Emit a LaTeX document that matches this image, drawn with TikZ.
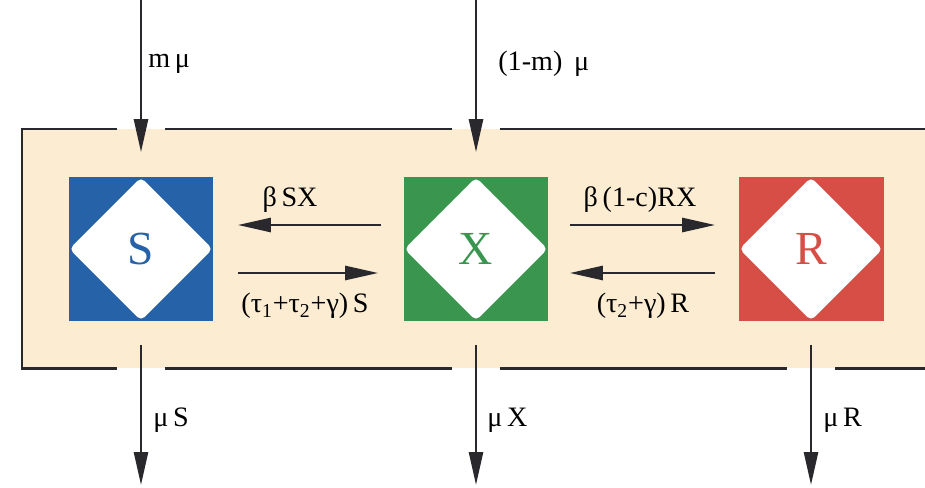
\documentclass[tikz,border=0pt]{standalone}
\usepackage{fontspec}
\setmainfont{Liberation Serif}
\usetikzlibrary{arrows.meta}
\definecolor{sandbg}{RGB}{251, 236, 210}
\definecolor{sblue}{RGB}{38, 98, 168}
\definecolor{xgreen}{RGB}{58, 150, 78}
\definecolor{rred}{RGB}{214, 78, 70}
\definecolor{darkline}{RGB}{40, 40, 45}

\begin{document}
\begin{tikzpicture}[x=0.02cm, y=-0.02cm,
  comp/.style={rectangle, minimum width=2.9cm, minimum height=2.9cm,
               inner sep=0pt, font=\fontsize{27}{29}\selectfont,
               path picture={\fill[white, rounded corners=0.1cm]
                 ([yshift=-0.5pt]path picture bounding box.north) --
                 ([xshift=-0.5pt]path picture bounding box.east) --
                 ([yshift=0.5pt]path picture bounding box.south) --
                 ([xshift=0.5pt]path picture bounding box.west) -- cycle;}},
  lbl/.style={font=\fontsize{16}{18}\selectfont, inner sep=0pt},
  flow/.style={-{Triangle[length=0.66cm, width=0.28cm]}, line width=1.5pt, darkline},
  frameline/.style={line width=1.7pt, darkline}
]
\useasboundingbox (0,0) rectangle (925,487);

% compartment frame
\fill[sandbg] (22,129) rectangle (925,368);
\draw[frameline] (925,129) -- (500,129);
\draw[frameline] (452,129) -- (165,129);
\draw[frameline] (117,129) -- (22,129) -- (22,368) -- (117,368);
\draw[frameline] (165,368) -- (452,368);
\draw[frameline] (500,368) -- (787,368);
\draw[frameline] (835,368) -- (925,368);

% the three classes
\node[comp, fill=sblue,  text=sblue]  (S) at (141,249) {S};
\node[comp, fill=xgreen, text=xgreen] (X) at (476,249) {X};
\node[comp, fill=rred,   text=rred]   (R) at (811,249) {R};

% births and deaths
\coordinate (inS)  at (141,0);
\coordinate (inX)  at (476,0);
\coordinate (outS) at (141,485);
\coordinate (outX) at (476,485);
\coordinate (outR) at (811,485);

\draw[flow, shorten >=0.48cm] (inS) -- (S);
\draw[flow, shorten >=0.48cm] (inX) -- (X);
\draw[flow, shorten <=0.46cm] (S) -- (outS);
\draw[flow, shorten <=0.46cm] (X) -- (outX);
\draw[flow, shorten <=0.46cm] (R) -- (outR);

% transitions
\draw[flow, shorten <=0.44cm, shorten >=0.48cm] ([yshift=0.48cm]X.west) -- ([yshift=0.48cm]S.east);
\draw[flow, shorten <=0.48cm, shorten >=0.5cm]  ([yshift=-0.48cm]S.east) -- ([yshift=-0.48cm]X.west);
\draw[flow, shorten <=0.42cm, shorten >=0.46cm] ([yshift=0.48cm]X.east) -- ([yshift=0.48cm]R.west);
\draw[flow, shorten <=0.46cm, shorten >=0.42cm] ([yshift=-0.48cm]R.west) -- ([yshift=-0.48cm]X.east);

% rates
\node[lbl, anchor=west] (lmS)  at (148,64)  {m\,μ};
\node[lbl, anchor=west] (lmX)  at (498,64)  {(1-m)\, μ};
\node[lbl, anchor=west] (ldS)  at (153,420) {μ\,S};
\node[lbl, anchor=west] (ldX)  at (487,420) {μ\,X};
\node[lbl, anchor=west] (ldR)  at (823,420) {μ\,R};
\node[lbl] (linf)  at (290,200) {β\,SX};
\node[lbl] (lrec)  at (305,306) {(τ\textsubscript{1}+τ\textsubscript{2}+γ)\,S};
\node[lbl] (lres)  at (640,200) {β\,(1-c)RX};
\node[lbl] (lrr)   at (643,306) {(τ\textsubscript{2}+γ)\,R};

\end{tikzpicture}
\end{document}
